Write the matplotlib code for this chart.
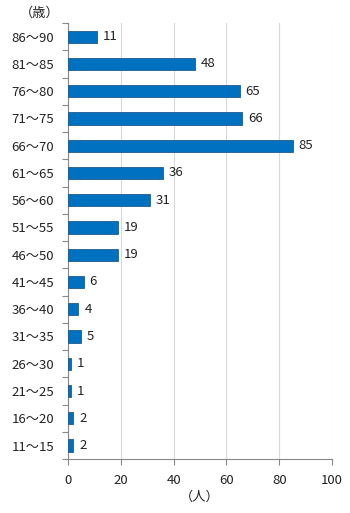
import matplotlib
matplotlib.use("Agg")
import matplotlib.pyplot as plt
import numpy as np

plt.rcParams['font.family'] = ['Noto Sans CJK JP', 'DejaVu Sans']

categories = ["11〜15", "16〜20", "21〜25", "26〜30", "31〜35", "36〜40",
              "41〜45", "46〜50", "51〜55", "56〜60", "61〜65", "66〜70",
              "71〜75", "76〜80", "81〜85", "86〜90"]
counts = [2, 2, 1, 1, 5, 4, 6, 19, 19, 31, 36, 85, 66, 65, 48, 11]
x_ticks = [0, 20, 40, 60, 80, 100]

fs = 9.5
fig = plt.figure(figsize=(3.5, 5.13), dpi=100)
ax = fig.add_axes([0.194, 0.105, 0.755, 0.850])

y = np.arange(len(categories))
ax.barh(y, counts, height=0.45, color="#0070C0", edgecolor="#1F5A8C", linewidth=0.6, zorder=3)

for yi, v in zip(y, counts):
    ax.text(v + 2.2, yi, str(v), va="center", ha="left", fontsize=fs, color="#222222")

ax.set_xlim(0, 100)
ax.set_ylim(-0.5, len(categories) - 0.5)
ax.set_xticks(x_ticks)
ax.set_xticklabels([str(t) for t in x_ticks], fontsize=fs, color="#222222")
ax.set_yticks(y)
ax.set_yticklabels(categories, fontsize=fs, color="#222222")
ax.set_yticks(np.arange(-0.5, len(categories)), minor=True)

ax.tick_params(axis="y", which="major", length=0, pad=10)
ax.tick_params(axis="y", which="minor", length=4, color="#888888", width=0.8)
ax.tick_params(axis="x", which="major", length=4, color="#888888", width=0.8, pad=7)

ax.grid(axis="x", color="#D9D9D9", linewidth=0.8, zorder=0)
for s in ["top", "right"]:
    ax.spines[s].set_visible(False)
for s in ["left", "bottom"]:
    ax.spines[s].set_color("#888888")
    ax.spines[s].set_linewidth(0.8)

fig.text(40 / 350, 1 - 13 / 513, "（歳）", ha="center", va="center", fontsize=fs, color="#222222")
fig.text(200 / 350, 1 - 497 / 513, "（人）", ha="center", va="center", fontsize=fs, color="#222222")

fig.savefig("out.png", dpi=100)
